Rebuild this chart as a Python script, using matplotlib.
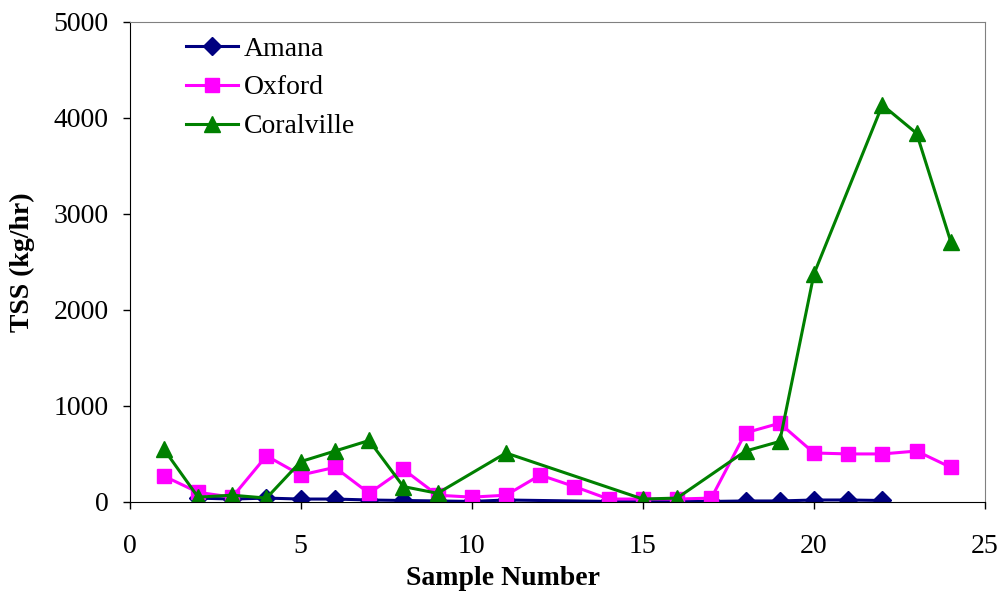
import numpy as np
import matplotlib.pyplot as plt

plt.rcParams['font.family'] = ['Liberation Serif', 'DejaVu Serif']

# Amana
amana_x = [2, 3, 4, 5, 6, 7, 8, 9, 10, 11, 14, 15, 16, 17, 18, 19, 20, 21, 22]
amana_y = [40, 30, 40, 30, 30, 20, 15, 10, 5, 20, 5, 5, 5, 5, 10, 10, 20, 20, 15]

# Oxford
oxford_x = list(range(1, 25))
oxford_y = [270, 100, 50, 480, 280, 360, 90, 340, 70, 50, 70, 280,
            160, 30, 30, 30, 40, 720, 820, 510, 500, 500, 530, 360]

# Coralville
coral_x = [1, 2, 3, 4, 5, 6, 7, 8, 9, 11, 15, 16, 18, 19, 20, 22, 23, 24]
coral_y = [550, 50, 70, 40, 420, 530, 640, 160, 90, 510, 30, 40,
           530, 630, 2375, 4135, 3840, 2710]

fig = plt.figure(figsize=(9.97, 5.94), dpi=100)
ax = fig.add_axes([0.130, 0.155, 0.858, 0.808])

ax.plot(amana_x, amana_y, color='#000080', marker='D', markersize=9, lw=2.2, label='Amana')
ax.plot(oxford_x, oxford_y, color='#FF00FF', marker='s', markersize=10.5, lw=2.2, label='Oxford')
ax.plot(coral_x, coral_y, color='#008000', marker='^', markersize=11, lw=2.2, label='Coralville')

ax.set_xlim(0, 25)
ax.set_ylim(0, 5000)
ax.set_xticks([0, 5, 10, 15, 20, 25])
ax.set_yticks(np.arange(0, 5001, 1000))
ax.tick_params(labelsize=20, direction='out', length=5, width=1)
ax.tick_params(axis='y', pad=10)
ax.tick_params(axis='x', pad=18)

ax.set_xlabel('Sample Number', fontsize=20, fontweight='bold')
ax.xaxis.set_label_coords(0.437, -0.133)
ax.set_ylabel('TSS (kg/hr)', fontsize=20, fontweight='bold')
ax.yaxis.set_label_coords(-0.111, 0.5)

for s in ['top', 'right']:
    ax.spines[s].set_color('#808080')
for s in ['left', 'bottom']:
    ax.spines[s].set_color('black')

ax.legend(loc='upper left', bbox_to_anchor=(0.046, 1.005), frameon=False,
          fontsize=20, handlelength=1.9, handletextpad=0.2, labelspacing=0.48,
          borderaxespad=0.2)

fig.savefig('out.png', dpi=100)
